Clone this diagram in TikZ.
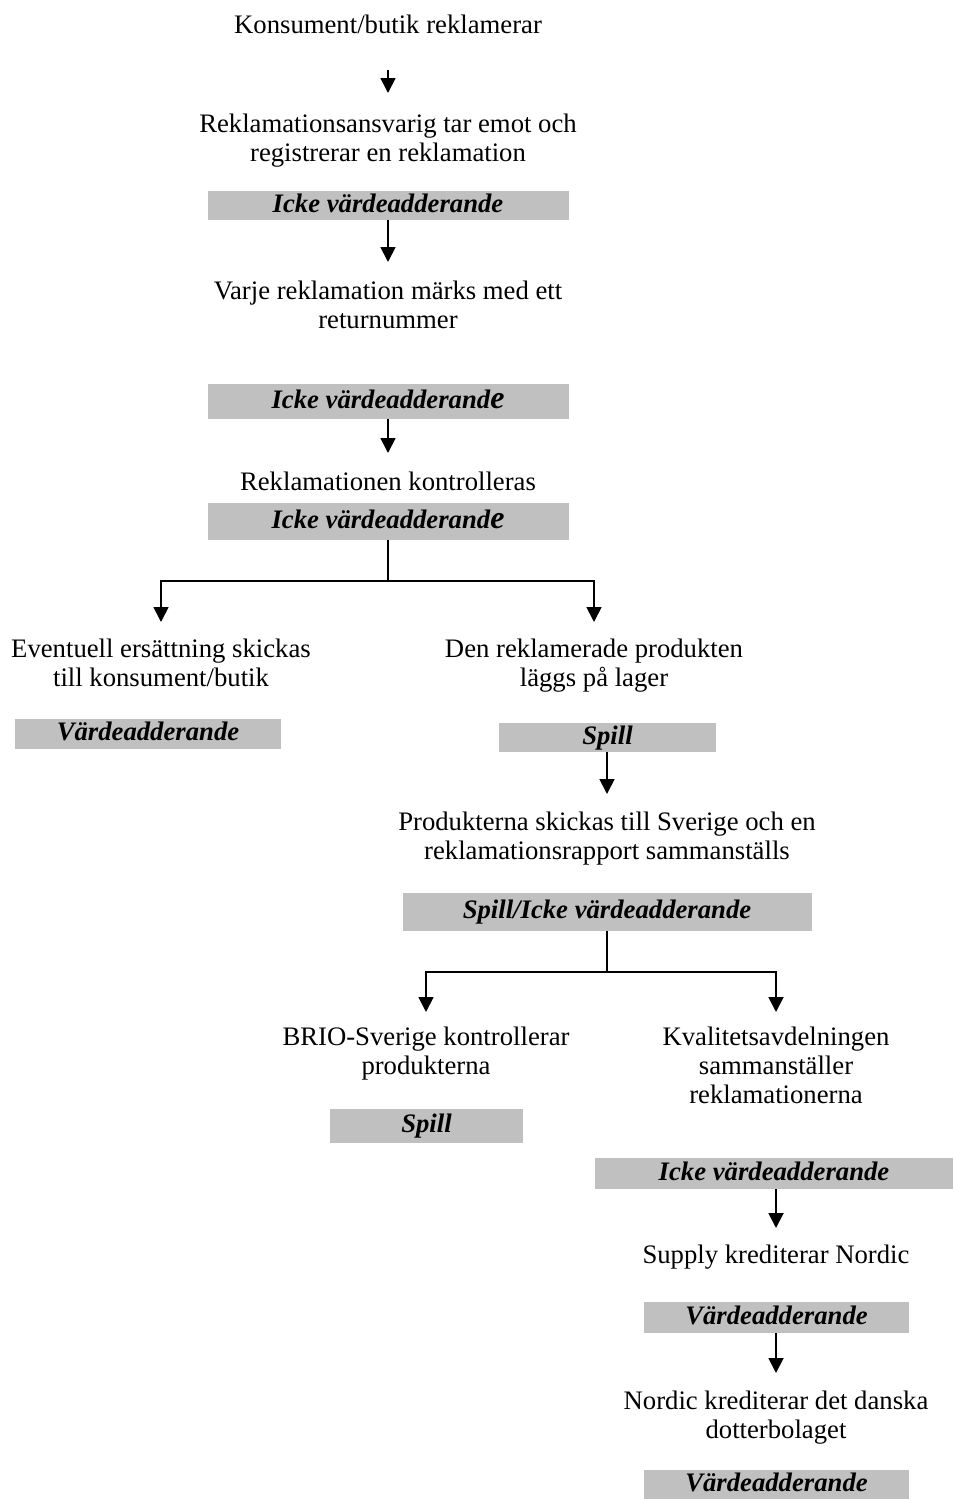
\documentclass[tikz,border=0pt]{standalone}
\usepackage{fontspec}
\setmainfont{Liberation Serif}
\usetikzlibrary{arrows.meta}
\definecolor{barfill}{RGB}{192,192,192}
% centred block of lines whose reference point is the first baseline
\newcommand{\txtlines}[1]{\begin{tabular}[t]{@{}c@{}}#1\end{tabular}}
\begin{document}
\begin{tikzpicture}[x=0.5pt,y=-0.5pt,
  txt/.style={font=\fontsize{13.35}{14.5}\selectfont, inner sep=0pt, outer sep=0pt, anchor=base},
  bar/.style={fill=barfill, draw=none, inner sep=0pt, outer sep=0pt,
    font=\fontsize{13.35}{14.5}\selectfont\bfseries\itshape,
    text height=0.66em, text depth=0pt},
  conn/.style={line width=0.9pt},
  arr/.style={conn, -{Triangle[width=7.5pt,length=7.5pt]}}
]
\useasboundingbox (0,0) rectangle (953,1499);

% main column
\node[txt] (t1) at (388,33) {\txtlines{Konsument/butik reklamerar}};
\node[txt] (t2) at (388,132) {\txtlines{Reklamationsansvarig tar emot och\\registrerar en reklamation}};
\node[bar, minimum width=180.5pt, minimum height=14.5pt] (b1) at (388,205.5) {Icke värdeadderande};
\node[txt] (t3) at (388,299) {\txtlines{Varje reklamation märks med ett\\returnummer}};
\node[bar, minimum width=180.5pt, minimum height=17.5pt] (b2) at (388,401.5) {Icke värdeadderand{\fontsize{16}{16}\selectfont e}};
\node[txt] (t4) at (388,490) {\txtlines{Reklamationen kontrolleras}};
\node[bar, minimum width=180.5pt, minimum height=18.5pt] (b3) at (388,521.5) {Icke värdeadderand{\fontsize{16}{16}\selectfont e}};

% first split
\node[txt] (t5l) at (161,657) {\txtlines{Eventuell ersättning skickas\\till konsument/butik}};
\node[bar, minimum width=133pt, minimum height=15pt] (b4) at (148,734) {Värdeadderande};
\node[txt] (t5r) at (594,657) {\txtlines{Den reklamerade produkten\\läggs på lager}};
\node[bar, minimum width=108.5pt, minimum height=14.5pt] (b5) at (607.5,737.5) {Spill};
\node[txt] (t6) at (607,830) {\txtlines{Produkterna skickas till Sverige och en\\reklamationsrapport sammanställs}};
\node[bar, minimum width=204.5pt, minimum height=19pt] (b6) at (607,912) {Spill/Icke värdeadderande};

% second split
\node[txt] (t7l) at (426,1045) {\txtlines{BRIO-Sverige kontrollerar\\produkterna}};
\node[bar, minimum width=96.5pt, minimum height=17pt] (b7) at (426.5,1126) {Spill};
\node[txt] (t7r) at (776,1045) {\txtlines{Kvalitetsavdelningen\\sammanställer\\reklamationerna}};
\node[bar, minimum width=179pt, minimum height=15.5pt] (b8) at (774,1173.5) {Icke värdeadderande};
\node[txt] (t8) at (776,1263) {\txtlines{Supply krediterar Nordic}};
\node[bar, minimum width=132.5pt, minimum height=15.5pt] (b9) at (776.5,1317.5) {Värdeadderande};
\node[txt] (t9) at (776,1409) {\txtlines{Nordic krediterar det danska\\dotterbolaget}};
\node[bar, minimum width=132.5pt, minimum height=14.5pt] (b10) at (776.5,1484.5) {Värdeadderande};

% straight steps
\draw[arr, shorten <=14.15pt, shorten >=9.35pt] (t1) -- (t2);
\draw[arr, shorten >=8.35pt] (b1.south -| t3.north) -- (t3.north);
\draw[arr, shorten >=8.35pt] (b2.south -| t4.north) -- (t4.north);
\draw[arr, shorten >=7.85pt] (b5.south -| t6.north) -- (t6.north);
\draw[arr, shorten >=7.35pt] (b8.south -| t8.north) -- (t8.north);
\draw[arr, shorten >=7.85pt] (b9.south -| t9.north) -- (t9.north);

% branches
\coordinate (j1) at ([yshift=-20.5pt]b3.south);
\draw[conn] (b3.south) -- (j1);
\draw[arr, shorten >=7.35pt] (j1) -| (t5l.north);
\draw[arr, shorten >=7.35pt] (j1) -| (t5r.north);

\coordinate (j2) at ([yshift=-20.5pt]b6.south);
\draw[conn] (b6.south) -- (j2);
\draw[arr, shorten >=6.35pt] (j2) -| (t7l.north);
\draw[arr, shorten >=6.35pt] (j2) -| (t7r.north);
\end{tikzpicture}
\end{document}
